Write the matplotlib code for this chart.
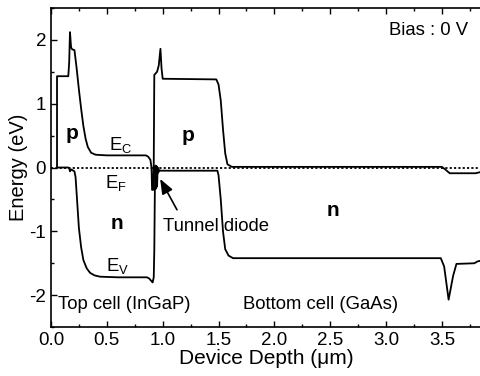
import matplotlib
matplotlib.use('Agg')
import matplotlib.pyplot as plt
from matplotlib.ticker import MultipleLocator

plt.rcParams['font.family'] = ['Liberation Sans', 'DejaVu Sans']
plt.rcParams['mathtext.default'] = 'regular'
plt.rcParams['axes.unicode_minus'] = False

# Conduction band E_C (depth in um, energy in eV)
ec_x = [0.054, 0.054, 0.155, 0.163, 0.17, 0.18, 0.19, 0.21, 0.23, 0.25, 0.27,
        0.29, 0.31, 0.33, 0.36, 0.40, 0.50, 0.70, 0.85, 0.87, 0.89, 0.90,
        0.905, 0.915, 0.92, 0.925, 0.95, 0.965, 0.98, 0.99, 1.0, 1.48, 1.50,
        1.52, 1.54, 1.56, 1.58, 1.62, 3.50, 3.53, 3.57, 3.80, 3.85]
ec_y = [0.0, 1.43, 1.43, 1.65, 2.12, 1.88, 1.85, 1.84, 1.55, 1.22, 0.92,
        0.65, 0.45, 0.32, 0.23, 0.20, 0.19, 0.19, 0.19, 0.17, 0.12, 0.0,
        -0.35, -0.35, 0.05, 1.45, 1.50, 1.60, 1.86, 1.55, 1.39, 1.38, 1.30,
        1.05, 0.60, 0.22, 0.05, 0.01, 0.01, -0.03, -0.09, -0.09, -0.07]

# Valence band E_V
ev_x = [0.054, 0.155, 0.165, 0.17, 0.18, 0.21, 0.22, 0.235, 0.25, 0.27,
        0.29, 0.32, 0.35, 0.39, 0.44, 0.60, 0.86, 0.88, 0.90, 0.91, 0.92,
        0.925, 0.93, 0.935, 0.94, 0.945, 0.95, 0.955, 0.96, 0.97, 0.98,
        1.49, 1.50, 1.52, 1.54, 1.56, 1.59, 1.63, 3.49, 3.52, 3.56, 3.60,
        3.63, 3.79, 3.82, 3.85]
ev_y = [0.0, 0.0, -0.02, -0.06, -0.03, -0.06, -0.15, -0.55, -0.95, -1.25,
        -1.45, -1.58, -1.65, -1.69, -1.71, -1.72, -1.72, -1.74, -1.78, -1.80,
        -1.72, -1.3, -0.35, 0.03, -0.33, 0.02, -0.30, 0.0, -0.08, -0.04,
        -0.05, -0.05, -0.12, -0.50, -1.00, -1.28, -1.38, -1.42, -1.42, -1.55,
        -2.07, -1.70, -1.51, -1.50, -1.47, -1.46]

# Fermi level E_F
ef_x = [0.0, 3.85]
ef_y = [0.0, 0.0]

fig = plt.figure(figsize=(4.81, 3.76), dpi=100)
ax = fig.add_axes([0.106, 0.13, 0.894, 0.849])

ax.plot(ef_x, ef_y, color='black', lw=1.3, ls=(0, (1.2, 1.2)))
ax.plot(ec_x, ec_y, color='black', lw=1.3)
ax.plot(ev_x, ev_y, color='black', lw=1.3)

ax.set_xlim(0, 3.85)
ax.set_ylim(-2.5, 2.5)
ax.xaxis.set_major_locator(MultipleLocator(0.5))
ax.xaxis.set_minor_locator(MultipleLocator(0.25))
ax.yaxis.set_major_locator(MultipleLocator(1))
ax.yaxis.set_minor_locator(MultipleLocator(0.5))
ax.xaxis.set_major_formatter(plt.FormatStrFormatter('%.1f'))
ax.tick_params(which='both', direction='in', top=True, labelsize=13.5, width=1)
ax.tick_params(which='major', length=4)
ax.tick_params(which='minor', length=2.5)
ax.spines['right'].set_visible(False)
for s in ['left', 'bottom', 'top']:
    ax.spines[s].set_linewidth(1.2)

ax.set_xlabel('Device Depth (μm)', fontsize=15, labelpad=0)
ax.set_ylabel('Energy (eV)', fontsize=14.5, labelpad=1)

fs = 13.3
ax.text(0.19, 0.54, 'p', fontsize=15, fontweight='bold', ha='center', va='center')
ax.text(1.23, 0.5, 'p', fontsize=15, fontweight='bold', ha='center', va='center')
ax.text(0.59, -0.88, 'n', fontsize=15, fontweight='bold', ha='center', va='center')
ax.text(2.52, -0.68, 'n', fontsize=15, fontweight='bold', ha='center', va='center')
ax.text(0.62, 0.35, 'E$_C$', fontsize=fs, ha='center', va='center')
ax.text(0.58, -0.24, 'E$_F$', fontsize=fs, ha='center', va='center')
ax.text(0.60, -1.55, 'E$_V$', fontsize=fs, ha='center', va='center')
ax.text(0.06, -2.14, 'Top cell (InGaP)', fontsize=fs, ha='left', va='center')
ax.text(1.72, -2.14, 'Bottom cell (GaAs)', fontsize=fs, ha='left', va='center')
ax.text(1.0, -0.92, 'Tunnel diode', fontsize=fs, ha='left', va='center')
ax.text(3.03, 2.14, 'Bias : 0 V', fontsize=fs, ha='left', va='center')
ax.annotate('', xy=(0.965, -0.14), xytext=(1.14, -0.7),
            arrowprops=dict(arrowstyle='-|>,head_length=0.9,head_width=0.35',
                            color='black', lw=1.2))

fig.savefig('out.png', dpi=100)
